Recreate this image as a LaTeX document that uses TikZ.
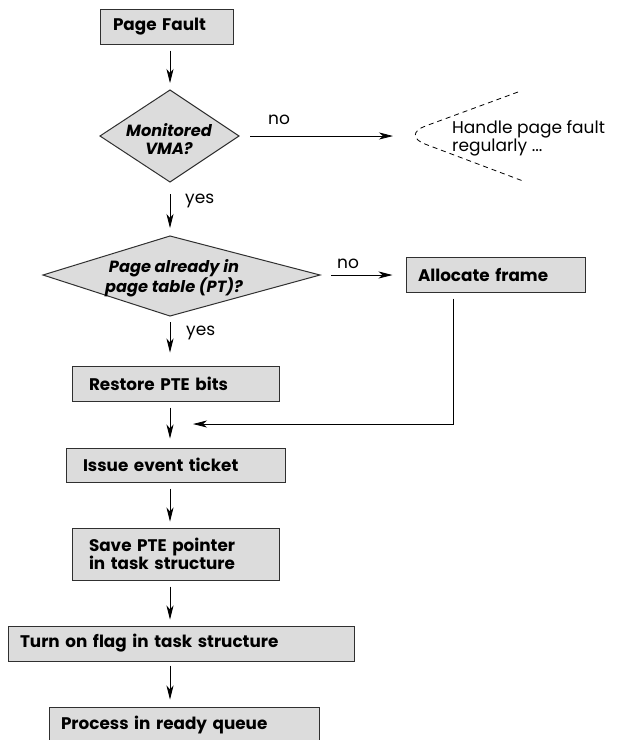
\documentclass[tikz,border=0pt]{standalone}
\usepackage{fontspec}
\setmainfont{Poppins}
\usetikzlibrary{arrows.meta}
\definecolor{boxfill}{HTML}{DCDCDC}
\definecolor{linec}{HTML}{303030}
\begin{document}
\begin{tikzpicture}[x=1pt,y=-1pt,
  box/.style={draw=linec, fill=boxfill, line width=1pt, font=\bfseries\fontsize{16.8}{18}\selectfont, inner ysep=0pt, align=left},
  arr/.style={draw=black, line width=0.8pt, -{Stealth[length=14pt,width=7pt,inset=4pt]}},
  lbl/.style={font=\fontsize{17}{17}\selectfont, inner sep=0pt},
  dia/.style={draw=linec, fill=boxfill, line width=1pt},
  dtext/.style={font=\bfseries\itshape\fontsize{16.2}{18}\selectfont, align=center, inner sep=0pt}]
\useasboundingbox (0,0) rectangle (618,740);

% boxes
\node[box, minimum width=133pt, minimum height=35pt, inner xsep=13pt, text width=107pt] (pf) at (166.5,26.5) {Page Fault};
\node[box, minimum width=179pt, minimum height=35pt, inner xsep=12pt, text width=155pt] (af) at (495.5,274.5) {Allocate frame};
\node[box, minimum width=207pt, minimum height=35pt, inner xsep=17pt, text width=173pt] (rp) at (175.5,383.5) {Restore PTE bits};
\node[box, minimum width=219pt, minimum height=34pt, inner xsep=17pt, text width=185pt] (ie) at (175.5,465) {Issue event ticket};
\node[box, minimum width=207pt, minimum height=52pt, inner xsep=17pt, text width=173pt] (sp) at (175.5,554) {Save PTE pointer\\in task structure};
\node[box, minimum width=346pt, minimum height=35pt, inner xsep=12pt, text width=322pt] (tf) at (181,643.5) {Turn on flag in task structure};
\node[box, minimum width=270pt, minimum height=35pt, inner xsep=12pt, text width=246pt] (pq) at (184,724.5) {Process in ready queue};

% diamonds
\draw[dia] (170,90) coordinate (d1t) -- (239,136) coordinate (d1r) -- (170,182) coordinate (d1b) -- (100,136) coordinate (d1l) -- cycle;
\node[dtext] (d1) at (169,139) {Monitored\\VMA?};
\draw[dia] (170,236) coordinate (d2t) -- (320,275) coordinate (d2r) -- (170,316) coordinate (d2b) -- (43,275) coordinate (d2l) -- cycle;
\node[dtext] (d2) at (174,278) {Page already in\\page table (PT)?};

% regular handling
\draw[dashed, dash pattern=on 5pt off 4pt, line width=0.8pt, rounded corners=26pt] (518,92) -- (401,135) coordinate (hv) -- (523,181);
\node[lbl, anchor=west, align=left] (hd) at (452,138.5) {Handle page fault\\regularly ...};

% connectors
\draw[arr, shorten <=6pt, shorten >=7pt] (pf.south -| d1t) -- (d1t);
\draw[arr, shorten <=11pt, shorten >=8pt] (d1r) -- (d1r -| hv);
\node[lbl, anchor=west] (no1) at (268,120) {no};
\draw[arr, shorten <=12pt, shorten >=8pt] (d1b) -- (d2t);
\node[lbl, anchor=west] (yes1) at (185,201) {yes};
\draw[arr, shorten <=11pt, shorten >=13pt] (d2r) -- (d2r -| af.west);
\node[lbl, anchor=west] (no2) at (337,264) {no};
\draw[arr, shorten <=6pt, shorten >=13pt] (d2b) -- (d2b |- rp.north);
\node[lbl, anchor=west] (yes2) at (186,333) {yes};
\draw[arr, shorten <=6pt, shorten >=9pt] (rp.south -| d2b) -- (ie.north -| d2b);
\coordinate (jn) at (453,424);
\draw[arr, shorten <=6pt, shorten >=23pt] (af.south -| jn) -- (jn) -- (jn -| d2b);
\draw[arr, shorten <=6pt, shorten >=6pt] (ie.south -| d2b) -- (sp.north -| d2b);
\draw[arr, shorten <=6pt, shorten >=6pt] (sp.south -| d2b) -- (tf.north -| d2b);
\draw[arr, shorten <=4pt, shorten >=7pt] (tf.south -| d2b) -- (pq.north -| d2b);
\end{tikzpicture}
\end{document}
